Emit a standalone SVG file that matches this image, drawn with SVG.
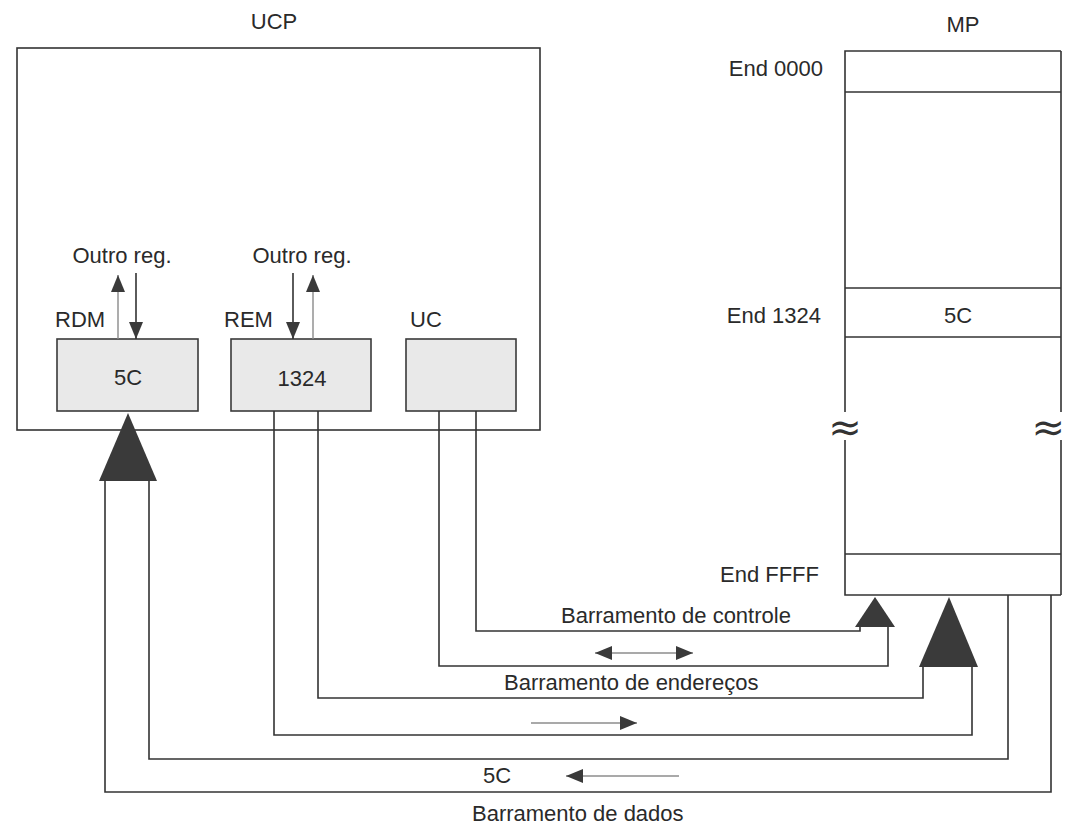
<svg xmlns="http://www.w3.org/2000/svg" width="1066" height="826" viewBox="0 0 1066 826">
  <defs>
    <marker id="ah" markerUnits="userSpaceOnUse" markerWidth="17" markerHeight="14" viewBox="0 0 17 14" refX="17" refY="7" orient="auto-start-reverse">
      <path d="M0,0 L17,7 L0,14 z" fill="#3a3a3a"/>
    </marker>
  </defs>
  <style>
    text { font-family: "Liberation Sans", Arial, sans-serif; font-size: 22px; fill: #2a2a2a; }
    .mid { text-anchor: middle; }
    .end { text-anchor: end; }
    .box { fill: none; stroke: #333; stroke-width: 1.6; }
    .reg { fill: #e9e9e9; stroke: #3a3a3a; stroke-width: 1.6; }
    .bus { fill: none; stroke: #333; stroke-width: 1.6; }
    .thin { fill: none; stroke: #555; stroke-width: 1.2; }
    .gray { fill: none; stroke: #8a8a8a; stroke-width: 1.4; }
    .tri { fill: #3a3a3a; stroke: none; }
    .brk { font-family: "DejaVu Sans", sans-serif; font-size: 40px; fill: #333; }
  </style>
  <rect width="1066" height="826" fill="#ffffff"/>

  <g id="ucp">
    <text x="274" y="29" class="mid">UCP</text>
    <rect x="17" y="48" width="523" height="382" class="box"/>
  </g>

  <g id="rdm">
    <text x="55" y="327">RDM</text>
    <rect x="57" y="339" width="141" height="72" class="reg"/>
    <text x="128" y="385" class="mid">5C</text>
  </g>

  <g id="rem">
    <text x="224" y="327">REM</text>
    <rect x="231" y="339" width="140" height="72" class="reg"/>
    <text x="302" y="386" class="mid">1324</text>
  </g>

  <g id="uc">
    <text x="410" y="327">UC</text>
    <rect x="406" y="339" width="110" height="72" class="reg"/>
  </g>

  <g id="outro-reg-rdm">
    <text x="122" y="263" class="mid">Outro reg.</text>
    <line x1="118" y1="339" x2="118" y2="275" class="gray" marker-end="url(#ah)"/>
    <line x1="136" y1="273" x2="136" y2="339" class="bus" marker-end="url(#ah)"/>
  </g>

  <g id="outro-reg-rem">
    <text x="302" y="263" class="mid">Outro reg.</text>
    <line x1="293" y1="273" x2="293" y2="339" class="bus" marker-end="url(#ah)"/>
    <line x1="313" y1="339" x2="313" y2="275" class="gray" marker-end="url(#ah)"/>
  </g>

  <g id="mp">
    <text x="963" y="32" class="mid">MP</text>
    <path d="M1061,51 H845 V412 M845,440 V595 H1061 M1061,51 V412 M1061,440 V595" class="box"/>
    <line x1="845" y1="92" x2="1061" y2="92" class="box"/>
    <line x1="845" y1="288" x2="1061" y2="288" class="box"/>
    <line x1="845" y1="337" x2="1061" y2="337" class="box"/>
    <line x1="845" y1="554" x2="1061" y2="554" class="box"/>
    <text x="823" y="76" class="end">End 0000</text>
    <text x="821" y="323" class="end">End 1324</text>
    <text x="958" y="323" class="mid">5C</text>
    <text x="819" y="582" class="end">End FFFF</text>
    <text x="845" y="441" class="brk mid">≈</text>
    <text x="1065" y="441" class="brk end">≈</text>
  </g>

  <g id="connectors">
    <!-- data bus -->
    <polygon points="128,413 157,481 99,481" class="tri"/>
    <polyline points="149,481 149,759 1008,759 1008,595" class="bus"/>
    <polyline points="105,481 105,792 1051,792 1051,595" class="bus"/>
    <!-- address bus -->
    <polygon points="949,597 978,667 919,667" class="tri"/>
    <polyline points="318,411 318,698 923,698 923,667" class="bus"/>
    <polyline points="274,411 274,735 972,735 972,667" class="bus"/>
    <!-- control bus -->
    <polygon points="875,597 895,627 855,627" class="tri"/>
    <polyline points="476,411 476,631 860,631 860,627" class="bus"/>
    <polyline points="439,411 439,666 888,666 888,627" class="bus"/>
    <!-- direction arrows -->
    <line x1="595" y1="653" x2="693" y2="653" class="thin" marker-start="url(#ah)" marker-end="url(#ah)"/>
    <line x1="531" y1="723" x2="637" y2="723" class="thin" marker-end="url(#ah)"/>
    <line x1="679" y1="776" x2="566" y2="776" class="thin" marker-end="url(#ah)"/>
  </g>

  <g id="labels">
    <text x="561" y="623">Barramento de controle</text>
    <text x="504" y="690">Barramento de endereços</text>
    <text x="497" y="783" class="mid">5C</text>
    <text x="472" y="821">Barramento de dados</text>
  </g>
</svg>
